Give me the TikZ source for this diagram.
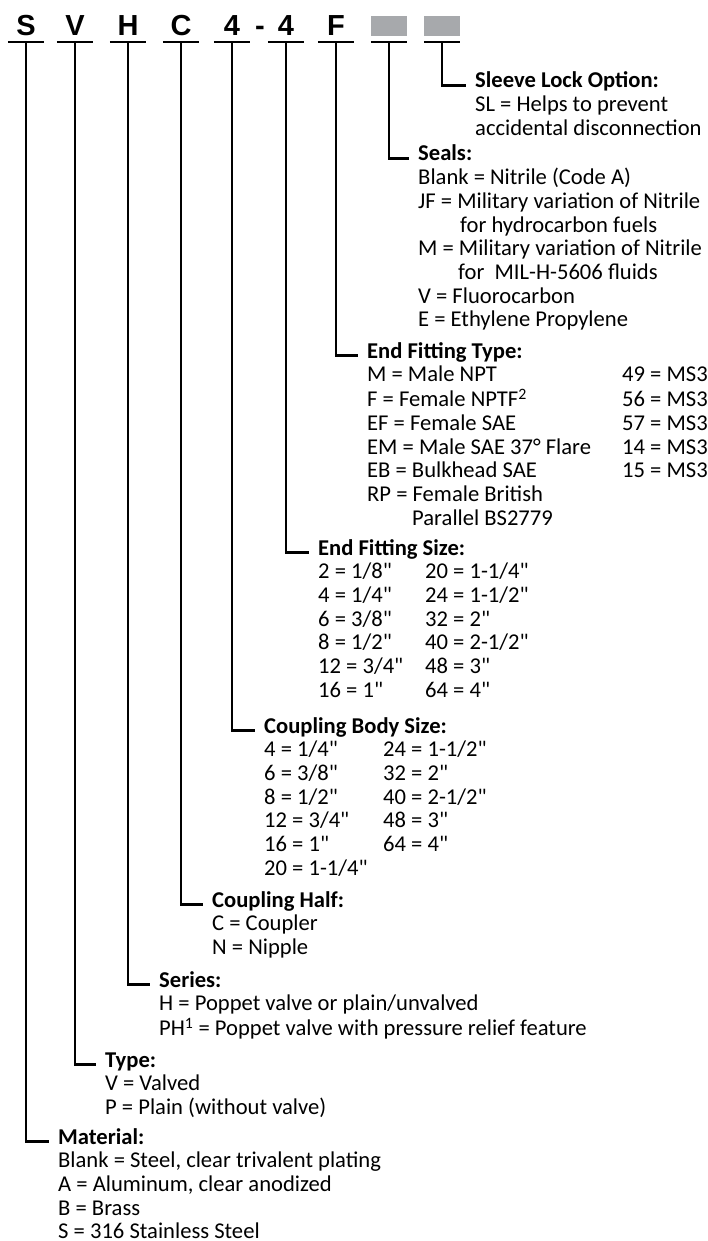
\documentclass[tikz,border=0pt]{standalone}
\usepackage{fontspec}
\setmainfont{Carlito}
\newfontfamily\listfont{Carlito}
\newfontfamily\codefont{Liberation Sans}
\usetikzlibrary{positioning}
\definecolor{blankgray}{RGB}{167,169,172}
\newcommand{\codeblank}{\textcolor{blankgray}{\rule{36pt}{20pt}}}
\tikzstyle{code} = [anchor=base, inner sep=0pt, minimum width=36pt, text depth=6pt, font=\codefont\bfseries\fontsize{29}{29}\selectfont]
\tikzstyle{leader} = [line width=2.2pt]
\tikzstyle{optlist} = [anchor=base west, inner sep=0pt, font=\listfont\fontsize{22.6}{23.7}\selectfont]

\begin{document}
\begin{tikzpicture}[x=1pt, y=-1pt]
\path[use as bounding box, fill=white] (0,0) rectangle (707,1241);

% part number code
\node[code] (cs) at (26,36) {S};
\node[code] (cv) at (75,36) {V};
\node[code] (ch) at (128,36) {H};
\node[code] (cc) at (181,36) {C};
\node[code] (cn1) at (232,36) {4};
\node[code, minimum width=0pt] (dash) at (260,36) {-};
\node[code] (cn2) at (286,36) {4};
\node[code] (cf) at (336,36) {F};
\node[code] (cb1) at (389,36) {\codeblank};
\node[code] (cb2) at (442,36) {\codeblank};

\foreach \c in {cs,cv,ch,cc,cn1,cn2,cf,cb1,cb2}
  \draw[leader] (\c.south west) -- (\c.south east);

% option lists
\node[optlist] (sleeve) at (475,88) {\begin{tabular}[t]{@{}l@{}}
\textbf{Sleeve Lock Option:}\\
SL = Helps to prevent\\
accidental disconnection
\end{tabular}};

\node[optlist] (seals) at (418,161) {\begin{tabular}[t]{@{}l@{}}
\textbf{Seals:}\\
Blank = Nitrile (Code A)\\
JF = Military variation of Nitrile\\
\hspace*{42pt}for hydrocarbon fuels\\
M = Military variation of Nitrile\\
\hspace*{40pt}for~~MIL-H-5606 fluids\\
V = Fluorocarbon\\
E = Ethylene Propylene
\end{tabular}};

\node[optlist] (fittype) at (367,358) {\begin{tabular}[t]{@{}p{255pt}@{}l@{}}
\multicolumn{2}{@{}l@{}}{\textbf{End Fitting Type:}}\\
M = Male NPT & 49 = MS3\\
F = Female NPTF\textsuperscript{2} & 56 = MS3\\
EF = Female SAE & 57 = MS3\\
EM = Male SAE 37° Flare & 14 = MS3\\
EB = Bulkhead SAE & 15 = MS3\\
RP = Female British & \\
\hspace*{45pt}Parallel BS2779 &
\end{tabular}};

\node[optlist] (fitsize) at (318,555) {\begin{tabular}[t]{@{}p{107pt}@{}l@{}}
\multicolumn{2}{@{}l@{}}{\textbf{End Fitting Size:}}\\
2 = 1/8" & 20 = 1-1/4"\\
4 = 1/4" & 24 = 1-1/2"\\
6 = 3/8" & 32 = 2"\\
8 = 1/2" & 40 = 2-1/2"\\
12 = 3/4" & 48 = 3"\\
16 = 1" & 64 = 4"
\end{tabular}};

\node[optlist] (body) at (264,733) {\begin{tabular}[t]{@{}p{119pt}@{}l@{}}
\multicolumn{2}{@{}l@{}}{\textbf{Coupling Body Size:}}\\
4 = 1/4" & 24 = 1-1/2"\\
6 = 3/8" & 32 = 2"\\
8 = 1/2" & 40 = 2-1/2"\\
12 = 3/4" & 48 = 3"\\
16 = 1" & 64 = 4"\\
20 = 1-1/4" &
\end{tabular}};

\node[optlist] (half) at (212,907) {\begin{tabular}[t]{@{}l@{}}
\textbf{Coupling Half:}\\
C = Coupler\\
N = Nipple
\end{tabular}};

\node[optlist] (series) at (159,987) {\begin{tabular}[t]{@{}l@{}}
\textbf{Series:}\\
H = Poppet valve or plain/unvalved\\
PH\textsuperscript{1} = Poppet valve with pressure relief feature
\end{tabular}};

\node[optlist] (type) at (105,1067) {\begin{tabular}[t]{@{}l@{}}
\textbf{Type:}\\
V = Valved\\
P = Plain (without valve)
\end{tabular}};

\node[optlist] (material) at (58,1144) {\begin{tabular}[t]{@{}l@{}}
\textbf{Material:}\\
Blank = Steel, clear trivalent plating\\
A = Aluminum, clear anodized\\
B = Brass\\
S = 316 Stainless Steel
\end{tabular}};

% leaders
\draw[leader] (cb2.south) |- ([xshift=-9pt, yshift=2.5pt]sleeve.base west);
\draw[leader] (cb1.south) |- ([xshift=-9pt, yshift=2.5pt]seals.base west);
\draw[leader] (cf.south) |- ([xshift=-9pt, yshift=2.5pt]fittype.base west);
\draw[leader] (cn2.south) |- ([xshift=-9pt, yshift=2.5pt]fitsize.base west);
\draw[leader] (cn1.south) |- ([xshift=-9pt, yshift=2.5pt]body.base west);
\draw[leader] (cc.south) |- ([xshift=-9pt, yshift=2.5pt]half.base west);
\draw[leader] (ch.south) |- ([xshift=-9pt, yshift=2.5pt]series.base west);
\draw[leader] (cv.south) |- ([xshift=-9pt, yshift=2.5pt]type.base west);
\draw[leader] (cs.south) |- ([xshift=-9pt, yshift=2.5pt]material.base west);
\end{tikzpicture}
\end{document}
